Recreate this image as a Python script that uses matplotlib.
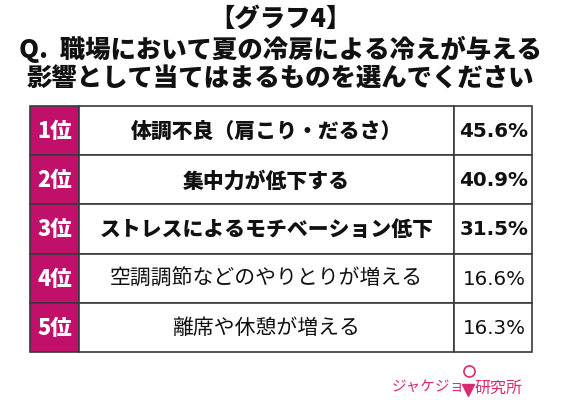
import matplotlib.pyplot as plt
from matplotlib.patches import Rectangle

plt.rcParams['font.family'] = ['Noto Sans CJK JP', 'DejaVu Sans']

# Data
ranks = ['1位', '2位', '3位', '4位', '5位']
items = ['体調不良（肩こり・だるさ）', '集中力が低下する',
         'ストレスによるモチベーション低下',
         '空調調節などのやりとりが増える', '離席や休憩が増える']
values = [45.6, 40.9, 31.5, 16.6, 16.3]
bold_rows = [True, True, True, False, False]

title_lines = ['【グラフ4】',
               'Q.  職場において夏の冷房による冷えが与える',
               '影響として当てはまるものを選んでください']

rank_color = '#C0106A'
logo_color = '#D92A72'
line_color = '#3a3a3a'

fig = plt.figure(figsize=(5.61, 4.10), dpi=100)
ax = fig.add_axes([0, 0, 1, 1])
ax.set_xlim(0, 561)
ax.set_ylim(410, 0)
ax.axis('off')

# Title
for y, line in zip([19, 49, 79], title_lines):
    ax.text(280, y, line, ha='center', va='center', fontsize=18.3,
            fontweight='black', color='#111111')

# Table geometry
left, rank_right, val_left, right = 30, 79, 454, 532
top, row_h = 107, 49.2

for i, (r, it, v, b) in enumerate(zip(ranks, items, values, bold_rows)):
    y0 = top + i * row_h
    yc = y0 + row_h / 2
    ax.add_patch(Rectangle((left, y0), rank_right - left, row_h,
                           facecolor=rank_color, edgecolor=line_color, lw=1.2))
    ax.add_patch(Rectangle((rank_right, y0), val_left - rank_right, row_h,
                           facecolor='white', edgecolor=line_color, lw=1.2))
    ax.add_patch(Rectangle((val_left, y0), right - val_left, row_h,
                           facecolor='white', edgecolor=line_color, lw=1.2))
    ax.text((left + rank_right) / 2, yc, r, ha='center', va='center',
            fontsize=15.5, fontweight='black', color='white')
    ax.text((rank_right + val_left) / 2, yc, it, ha='center', va='center',
            fontsize=15, fontweight='black' if b else 'normal', color='#111111')
    ax.text((val_left + right) / 2 + 1, yc, f'{v:.1f}%', ha='center', va='center',
            fontsize=14.3, fontweight='bold' if b else 'normal', color='#111111',
            family='DejaVu Sans')

# Logo
ax.text(428, 388, 'ジャケジョ', ha='center', va='center', fontsize=10.5,
        color=logo_color)
ax.plot([468], [391], marker='v', markersize=8, color=logo_color)
ax.plot([469], [372], marker='o', markersize=8, markerfacecolor='white',
        markeredgecolor=logo_color, markeredgewidth=1.2)
ax.text(498, 388, '研究所', ha='center', va='center', fontsize=11.5,
        color=logo_color)

fig.savefig('out.png', dpi=100, facecolor='white')
